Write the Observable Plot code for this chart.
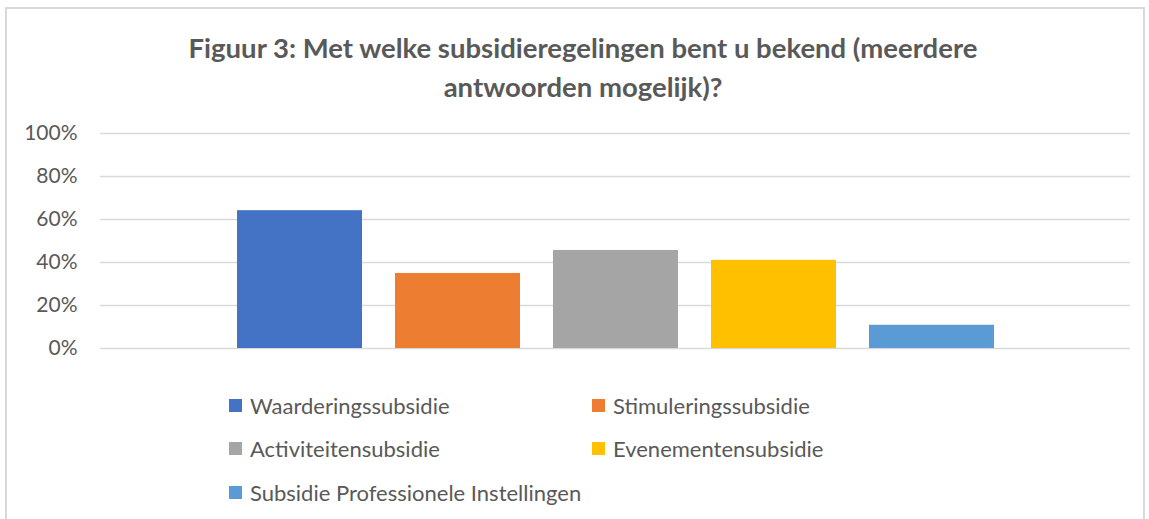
<!DOCTYPE html>
<html>
<head>
<meta charset="utf-8">
<script src="https://cdn.jsdelivr.net/npm/d3@7"></script>
<script src="https://cdn.jsdelivr.net/npm/@observablehq/plot@0.6"></script>
<style>
  html, body { margin: 0; padding: 0; background: #fff; }
  #wrap { position: relative; width: 1149px; height: 519px; overflow: hidden; font-family: Lato, "Open Sans", sans-serif; color: #595959; }
  #border { position: absolute; left: 5px; top: 7px; width: 1136px; height: 540px; border: 2px solid #d9d9d9; }
  #title { position: absolute; left: 0; top: 28px; width: 1166px; text-align: center; font-weight: bold; font-size: 27.5px; line-height: 39px; color: #595959; }
  #chart { position: absolute; left: 0; top: 110px; }
  #legend { position: absolute; left: 0; top: 0; }
  .item { position: absolute; display: flex; align-items: center; font-size: 22px; color: #595959; white-space: nowrap; height: 24px; }
  .sw { width: 13px; height: 13px; margin-right: 8px; }
</style>
</head>
<body>
<div id="wrap">
  <div id="border"></div>
  <div id="title"></div>
  <div id="chart"></div>
  <div id="legend"></div>
</div>
<script>
const titleLines = ["Figuur 3: Met welke subsidieregelingen bent u bekend (meerdere", "antwoorden mogelijk)?"];
const categories = ["Waarderingssubsidie", "Stimuleringssubsidie", "Activiteitensubsidie", "Evenementensubsidie", "Subsidie Professionele Instellingen"];
const values = [0.641, 0.349, 0.456, 0.410, 0.108];
const colors = ["#4472C4", "#ED7D31", "#A5A5A5", "#FFC000", "#5B9BD5"];
const yTicks = [0, 0.2, 0.4, 0.6, 0.8, 1.0];

document.getElementById("title").innerHTML = titleLines.join("<br>");

const data = categories.map((c, i) => ({category: c, value: values[i]}));

const chart = Plot.plot({
  width: 1149,
  height: 250,
  marginLeft: 100,
  marginRight: 19,
  marginTop: 23,
  marginBottom: 12,
  style: {fontFamily: "Lato, 'Open Sans', sans-serif", fontSize: "21px", color: "#595959", background: "transparent"},
  x: {domain: categories, paddingInner: 0.21, paddingOuter: 0.105, insetLeft: 120, insetRight: 120, axis: null},
  y: {domain: [0, 1], ticks: yTicks, tickFormat: d3.format(".0%"), label: null},
  color: {domain: categories, range: colors},
  marks: [
    Plot.ruleY(yTicks, {stroke: "#d9d9d9", strokeWidth: 1.5}),
    Plot.barY(data, {x: "category", y: "value", fill: "category"}),
    Plot.axisY({ticks: yTicks, tickFormat: d3.format(".0%"), tickSize: 0, tickPadding: 23, label: null, fill: "#595959", fontSize: 21})
  ]
});
document.getElementById("chart").appendChild(chart);

// legend (HTML, below the plot)
const legendPos = [
  {left: 229, top: 393}, {left: 592, top: 393},
  {left: 229, top: 436}, {left: 592, top: 436},
  {left: 229, top: 480}
];
const legend = document.getElementById("legend");
categories.forEach((c, i) => {
  const d = document.createElement("div");
  d.className = "item";
  d.style.left = legendPos[i].left + "px";
  d.style.top = legendPos[i].top + "px";
  d.innerHTML = `<span class="sw" style="background:${colors[i]}"></span><span>${c}</span>`;
  legend.appendChild(d);
});
</script>
</body>
</html>
